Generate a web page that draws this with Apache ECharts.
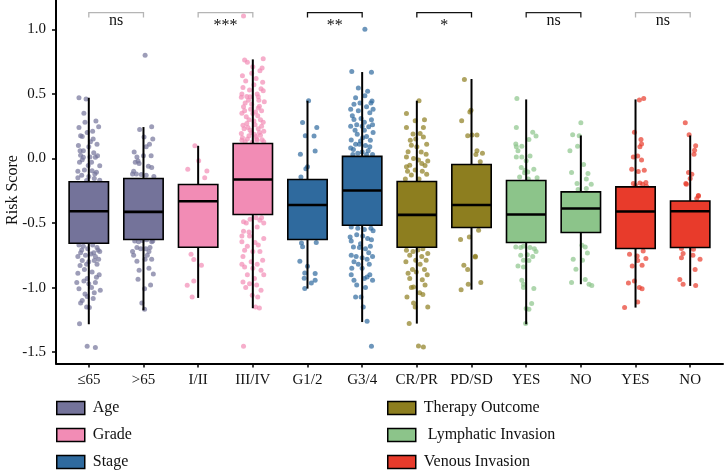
<!DOCTYPE html>
<html>
<head>
<meta charset="utf-8">
<script src="https://cdn.jsdelivr.net/npm/echarts@6/dist/echarts.min.js"></script>
<style>
html,body{margin:0;padding:0;background:#fff;}
#chart{width:724px;height:471px;}
</style>
</head>
<body>
<div id="chart"></div>
<script>
const categories = ['≤65','>65','I/II','III/IV','G1/2','G3/4','CR/PR','PD/SD','YES','NO','YES','NO'];
const groupNames = ['Age','Grade','Stage','Therapy Outcome','Lymphatic Invasion','Venous Invasion'];
const categoryGroup = [0,0,1,1,2,2,3,3,4,4,5,5];
const whiskerLow  = [-1.284,-1.176,-1.08,-1.16,-1.008,-1.267,-1.279,-1.016,-1.284,-0.974,-1.155,-0.987];
const quartile1   = [-0.657,-0.628,-0.688,-0.434,-0.628,-0.517,-0.688,-0.535,-0.651,-0.574,-0.698,-0.69];
const medians     = [-0.409,-0.414,-0.331,-0.163,-0.36,-0.248,-0.437,-0.36,-0.434,-0.388,-0.411,-0.409];
const quartile3   = [-0.181,-0.155,-0.202,0.116,-0.163,0.016,-0.178,-0.047,-0.171,-0.259,-0.22,-0.329];
const whiskerHigh = [0.47,0.243,0.098,0.767,0.447,0.669,0.447,0.615,0.457,0.178,0.457,0.178];
const yTicks = [-1.5,-1.0,-0.5,0.0,0.5,1.0];
const sigPairs = [[1,2],[3,4],[5,6],[7,8],[9,10],[11,12]];
const sigLabels = ['ns','***','**','*','ns','ns'];
const sigLevel = 1.13;

// jittered points: [jitter offset (category units), risk score]
const pts1 = [[-0.18,0.47],[-0.05,0.46],[-0.09,0.35],[0.13,0.29],[-0.18,0.24],[0.18,0.245],[-0.15,0.175],[-0.12,0.17],[-0.03,0.2],[0.08,0.15],[0.15,0.11],[-0.19,0.1],[0.0,0.09],[-0.1,0.06],[0.09,0.045],[-0.15,0.025],[0.02,0.012],[0.12,0.01],[-0.12,-0.01],[0.05,-0.03],[-0.17,-0.03],[-0.01,-0.055],[0.2,-0.057],[-0.08,-0.09],[0.06,-0.096],[-0.2,-0.1],[0.14,-0.106],[-0.13,-0.13],[0.1,-0.155],[0.2,-0.168],[-0.04,-0.17],[0.03,0.13],[-0.07,0.28],[0.16,0.02],[-0.2,-0.15],[0.11,-0.12],[-0.1,0.01],[0.07,0.21],[0.0,-0.14],[-0.16,0.06],
  [-0.18,-0.67],[-0.1,-0.68],[-0.02,-0.7],[0.07,-0.67],[0.15,-0.69],[0.2,-0.72],[-0.15,-0.73],[-0.06,-0.75],[0.04,-0.74],[0.12,-0.76],[-0.2,-0.76],[0.18,-0.78],[-0.12,-0.79],[0.0,-0.8],[0.1,-0.79],[-0.04,-0.82],[-0.16,-0.83],[0.15,-0.82],[-0.08,-0.86],[0.06,-0.88],[-0.2,-0.89],[0.14,-0.92],[-0.03,-0.93],[-0.22,-0.96],[0.0,-0.97],[0.12,-0.96],[-0.18,-1.01],[0.05,-1.0],[0.21,-1.02],[-0.07,-1.05],[-0.03,-1.07],[-0.12,-1.1],[0.08,-1.085],[-0.15,-1.12],[-0.04,-1.15],[0.01,-1.155],[-0.17,-1.28],[-0.03,-1.455],[0.12,-1.465],[0.17,-0.71],[-0.13,-0.71],[0.09,-0.73],[0.19,-0.9],[-0.09,-0.95],[0.1,-1.04]];
const pts2 = [[0.03,0.8],[-0.07,0.225],[0.15,0.245],[0.01,0.167],[0.17,0.15],[-0.17,0.05],[-0.12,0.012],[0.05,0.09],[0.14,0.02],[0.0,0.02],[-0.15,-0.03],[-0.08,-0.04],[0.09,-0.06],[-0.2,-0.12],[-0.13,-0.12],[-0.04,-0.125],[0.05,-0.13],[0.15,-0.07],[-0.1,-0.02],[0.11,0.11],[0.19,-0.14],[-0.18,-0.1],
  [-0.16,-0.64],[-0.09,-0.645],[-0.02,-0.635],[0.06,-0.63],[0.15,-0.645],[0.17,-0.64],[-0.12,-0.69],[-0.05,-0.7],[0.04,-0.7],[0.12,-0.69],[-0.2,-0.72],[0.1,-0.72],[-0.12,-0.796],[0.03,-0.78],[0.15,-0.78],[-0.08,-0.866],[0.1,-0.85],[0.18,-0.895],[-0.1,-0.935],[0.13,-0.98],[0.02,-1.01],[-0.03,-1.12],[0.02,-1.168],[-0.18,-0.75],[0.07,-0.75]];
const pts3 = [[-0.06,0.098],[0.01,-0.018],[-0.19,-0.083],[0.16,-0.098],[0.12,-0.15],
  [-0.13,-0.742],[-0.08,-0.783],[0.06,-0.827],[-0.2,-0.982],[-0.08,-0.949],[-0.11,-1.073]];
const pts4 = [[-0.17,1.103],[-0.15,0.762],[0.19,0.772],[-0.1,0.745],[0.18,0.591],[-0.18,0.55],[-0.05,0.478],[0.1,0.478],[-0.21,0.473],[0.19,0.524],[-0.08,0.45],[0.12,0.405],[-0.17,0.4],[0.05,0.36],[0.0,0.349],[-0.12,0.322],[0.14,0.3],[-0.18,0.258],[0.16,0.25],[-0.05,0.219],[0.2,0.21],[-0.21,0.194],[0.03,0.185],[-0.1,0.15],[0.17,0.145],[-0.01,0.126],[-0.14,0.13],[0.08,0.14],[0.13,0.68],[-0.02,0.66],[0.06,0.62],[-0.13,0.6],[0.02,0.57],[0.15,0.54],[-0.06,0.53],[-0.2,0.5],[0.08,0.5],[0.21,0.44],[-0.14,0.43],[-0.02,0.42],[0.16,0.37],[-0.2,0.35],[0.09,0.33],[-0.07,0.3],[0.19,0.28],[-0.11,0.27],[0.04,0.26],[-0.16,0.23],[0.1,0.23],[-0.02,0.2],[0.14,0.18],[-0.19,0.16],[0.06,0.17],[-0.07,0.175],[0.2,0.13],[-0.04,0.38],[0.11,0.45],[-0.11,0.48],[0.0,0.71],[-0.19,0.64],[0.17,0.7],[0.1,0.39],[-0.15,0.37],[0.02,0.29],[-0.09,0.24],[0.12,0.2],[-0.2,0.14],[0.07,0.15],
  [-0.17,-0.563],[-0.07,-0.57],[0.13,-0.478],[0.16,-0.46],[-0.2,-0.646],[-0.06,-0.6],[0.04,-0.65],[0.1,-0.67],[-0.15,-0.711],[0.0,-0.72],[0.18,-0.788],[-0.18,-0.76],[-0.03,-0.8],[-0.15,-0.84],[0.0,-0.85],[0.15,-0.866],[-0.18,-0.957],[-0.06,-0.97],[0.07,-0.98],[-0.01,-1.06],[0.09,-1.073],[0.12,-1.158],[0.05,-1.15],[-0.17,-1.455],[0.2,-0.5],[-0.12,-0.5],[0.08,-0.53],[-0.2,-0.6],[0.2,-0.62],[-0.1,-0.68],[0.13,-0.72],[-0.2,-0.82],[0.08,-0.82],[0.2,-0.9],[-0.1,-0.9],[0.03,-0.93],[-0.13,-1.0],[0.15,-1.02],[-0.05,-0.47],[0.06,-0.46],[-0.17,-0.49]];
const pts5 = [[0.02,0.447],[-0.09,0.279],[0.17,0.24],[-0.04,0.175],[0.12,0.173],[0.14,0.057],[-0.13,0.033],[0.0,-0.065],[-0.03,-0.08],[-0.12,-0.143],
  [-0.11,-0.654],[0.16,-0.651],[-0.09,-0.684],[-0.14,-0.796],[0.0,-0.835],[0.14,-0.891],[-0.05,-0.887],[-0.06,-0.928],[0.07,-0.964],[0.14,-0.943],[-0.05,-1.008]];
const pts6 = [[0.05,1.0],[-0.19,0.674],[0.17,0.667],[-0.07,0.545],[0.05,0.485],[-0.15,0.419],[0.18,0.444],[0.16,0.43],[-0.21,0.38],[-0.07,0.37],[0.14,0.354],[0.08,0.4],[-0.15,0.302],[-0.02,0.31],[0.17,0.3],[-0.21,0.25],[0.0,0.25],[0.12,0.245],[-0.13,0.219],[0.04,0.219],[-0.09,0.188],[0.08,0.17],[-0.2,0.142],[-0.03,0.135],[0.15,0.14],[-0.12,0.11],[0.06,0.1],[-0.21,0.08],[0.0,0.05],[-0.05,0.11],[0.11,0.06],[0.19,0.03],[-0.17,0.03],[0.2,0.2],[0.1,0.52],[-0.12,0.47],[0.2,0.38],[-0.04,0.43],[0.01,0.16],[-0.16,0.07],[0.14,0.09],[-0.08,0.04],[0.08,0.03],[0.19,0.26],[-0.18,0.33],[0.04,0.28],[-0.1,0.26],
  [-0.2,-0.53],[-0.08,-0.54],[0.04,-0.55],[0.16,-0.54],[0.2,-0.56],[-0.22,-0.608],[-0.1,-0.59],[0.01,-0.6],[0.1,-0.62],[-0.16,-0.685],[-0.05,-0.69],[0.06,-0.7],[0.15,-0.68],[-0.2,-0.75],[-0.11,-0.76],[0.0,-0.77],[0.09,-0.78],[0.19,-0.76],[-0.15,-0.8],[-0.07,-0.82],[0.13,-0.82],[-0.19,-0.85],[0.0,-0.85],[0.09,-0.918],[-0.15,-0.943],[0.19,-0.943],[-0.1,-0.98],[0.04,-0.93],[0.14,-0.9],[-0.12,-1.073],[-0.02,-1.073],[0.02,-1.15],[0.09,-1.261],[0.17,-1.455],[-0.2,-0.64],[0.17,-0.63],[-0.03,-0.66],[0.12,-0.73],[-0.2,-0.9],[0.06,-1.0]];
const pts7 = [[0.04,0.447],[-0.19,0.349],[-0.03,0.292],[-0.19,0.24],[0.12,0.24],[0.06,0.194],[-0.07,0.19],[0.12,0.167],[-0.1,0.103],[0.18,0.11],[0.0,0.09],[-0.16,0.051],[0.08,0.05],[0.17,0.033],[-0.19,0.012],[-0.06,0.0],[0.03,-0.013],[-0.13,-0.052],[0.15,-0.055],[-0.19,-0.065],[-0.03,-0.09],[0.1,-0.1],[-0.1,-0.129],[0.18,-0.122],[0.04,-0.16],[-0.21,-0.16],[0.14,0.3],[-0.12,0.14],[0.2,-0.02],[-0.02,0.15],[0.09,-0.04],[-0.17,-0.1],
  [-0.19,-0.711],[-0.07,-0.72],[0.02,-0.71],[0.11,-0.7],[0.2,-0.736],[-0.13,-0.75],[0.09,-0.76],[-0.02,-0.788],[0.17,-0.788],[-0.08,-0.86],[0.14,-0.86],[-0.01,-0.88],[-0.13,-0.93],[0.1,-0.94],[-0.06,-0.995],[0.15,-0.98],[-0.1,-1.0],[-0.18,-1.073],[0.11,-1.054],[-0.06,-1.12],[-0.03,-1.15],[0.2,-1.15],[-0.14,-1.279],[0.03,-1.452],[0.12,-1.46],[0.06,-0.82],[-0.2,-0.8],[0.19,-0.9],[0.05,-1.04],[-0.16,-0.89]];
const pts8 = [[-0.13,0.612],[-0.01,0.374],[-0.18,0.292],[-0.07,0.175],[0.1,0.181],[-0.03,0.36],[0.01,0.181],[0.1,0.059],[0.08,0.031],[0.16,-0.026],[0.2,0.04],
  [-0.2,-0.628],[-0.04,-0.608],[0.13,-0.556],[-0.14,-0.827],[-0.07,-0.86],[0.07,-0.763],[0.07,-0.758],[-0.19,-1.016],[-0.06,-0.974],[0.17,-0.961]];
const pts9 = [[-0.17,0.465],[-0.18,0.24],[0.12,0.202],[0.18,0.173],[0.05,0.147],[-0.19,0.111],[-0.18,0.09],[-0.08,0.095],[-0.15,0.059],[-0.18,0.012],[-0.08,0.012],[0.07,0.018],[0.0,-0.018],[-0.09,-0.07],[-0.02,-0.091],[0.14,-0.083],[-0.03,-0.111],[0.03,-0.105],[-0.12,-0.143],[0.04,-0.16],[0.2,-0.15],
  [-0.19,-0.685],[-0.1,-0.69],[-0.05,-0.68],[0.07,-0.69],[0.15,-0.7],[-0.1,-0.75],[0.02,-0.745],[0.12,-0.76],[-0.05,-0.788],[0.05,-0.79],[-0.15,-0.833],[-0.05,-0.84],[-0.08,-0.943],[-0.05,-0.974],[0.14,-1.008],[-0.05,-1.0],[0.1,-1.124],[0.0,-1.163],[0.05,-1.168],[-0.01,-1.279],[0.18,-0.72]];
const pts10 = [[0.0,0.276],[-0.15,0.183],[-0.03,0.175],[-0.06,0.095],[-0.2,0.059],[0.05,-0.047],[-0.17,-0.109],[0.13,-0.116],[0.1,-0.16],[-0.07,-0.194],[0.1,-0.233],[-0.05,-0.24],[0.19,-0.2],
  [0.02,-0.672],[0.08,-0.685],[0.12,-0.732],[-0.14,-0.781],[0.03,-0.788],[-0.09,-0.858],[0.08,-0.938],[-0.17,-0.961],[0.15,-0.974],[0.2,-0.984]];
const pts11 = [[0.07,0.452],[0.15,0.465],[-0.02,0.202],[0.1,0.147],[0.11,0.111],[0.08,0.09],[-0.04,0.012],[0.04,0.018],[0.11,-0.013],[-0.07,-0.083],[0.05,-0.101],[0.16,-0.091],[-0.04,-0.194],[0.08,-0.19],[0.19,-0.186],[0.13,-0.2],[0.0,-0.21],[0.2,-0.215],
  [-0.11,-0.742],[0.03,-0.755],[0.14,-0.716],[0.19,-0.775],[0.04,-0.79],[-0.06,-0.833],[0.12,-0.827],[-0.13,-0.964],[-0.02,-0.949],[0.07,-1.0],[0.12,-1.01],[-0.2,-1.155],[0.04,-1.112]];
const pts12 = [[-0.09,0.276],[-0.02,0.183],[0.1,0.098],[0.08,0.064],[0.07,0.033],[-0.03,-0.109],[0.03,-0.122],[0.0,-0.155],[-0.08,-0.194],[0.15,-0.29],[0.12,-0.31],[-0.07,-0.2],[0.15,-0.287],
  [-0.16,-0.698],[0.06,-0.703],[-0.13,-0.736],[0.05,-0.75],[0.18,-0.781],[-0.16,-0.77],[-0.19,-0.938],[0.09,-0.86],[-0.13,-0.974],[0.1,-0.984]];
const pointsByCategory = [pts1,pts2,pts3,pts4,pts5,pts6,pts7,pts8,pts9,pts10,pts11,pts12];

// styles
const FONT = "'Liberation Serif','DejaVu Serif',serif";
const boxColors = ['#74739A','#F28CB5','#2F6A9E','#8D7E1F','#8CC48A','#E83B2B'];
const sigColors = ['#b5b5b5','#b5b5b5','#111','#111','#222','#b5b5b5'];
const BOX_W = 0.72;

const chart = echarts.init(document.getElementById('chart'), null, {renderer:'canvas'});

function renderBox(color) {
  return function (params, api) {
    const x = api.value(0);
    const lo = api.coord([x, api.value(1)]);
    const q1 = api.coord([x, api.value(2)]);
    const md = api.coord([x, api.value(3)]);
    const q3 = api.coord([x, api.value(4)]);
    const hi = api.coord([x, api.value(5)]);
    const half = api.size([BOX_W, 0])[0] / 2;
    const cx = lo[0];
    return {
      type: 'group',
      children: [
        {type:'line', shape:{x1:cx, y1:hi[1], x2:cx, y2:q3[1]}, style:{stroke:'#000', lineWidth:2}},
        {type:'line', shape:{x1:cx, y1:q1[1], x2:cx, y2:lo[1]}, style:{stroke:'#000', lineWidth:2}},
        {type:'rect', shape:{x:cx-half, y:q3[1], width:2*half, height:q1[1]-q3[1]}, style:{fill:color, stroke:'#000', lineWidth:1.6}},
        {type:'line', shape:{x1:cx-half, y1:md[1], x2:cx+half, y2:md[1]}, style:{stroke:'#000', lineWidth:2.6}}
      ]
    };
  };
}

const series = [];
groupNames.forEach((g, gi) => {
  const cats = [];
  categoryGroup.forEach((cg, ci) => { if (cg === gi) cats.push(ci); });
  const ptsData = [];
  cats.forEach(ci => pointsByCategory[ci].forEach(p => ptsData.push([ci + 1 + p[0], p[1]])));
  series.push({
    name: g + ' points',
    type: 'scatter',
    data: ptsData,
    symbolSize: 5,
    itemStyle: {color: boxColors[gi], opacity: 0.7},
    z: 2,
    silent: true
  });
  series.push({
    name: g,
    type: 'custom',
    renderItem: renderBox(boxColors[gi]),
    itemStyle: {color: boxColors[gi]},
    encode: {x: 0, y: [1,2,3,4,5]},
    data: cats.map(ci => [ci + 1, whiskerLow[ci], quartile1[ci], medians[ci], quartile3[ci], whiskerHigh[ci]]),
    z: 3,
    silent: true
  });
});

series.push({
  name: 'significance',
  type: 'custom',
  z: 4,
  silent: true,
  data: sigPairs.map(p => [p[0], p[1], sigLevel]),
  encode: {x: [0,1], y: 2},
  renderItem: function (params, api) {
    const i = params.dataIndex;
    const a = api.coord([api.value(0), api.value(2)]);
    const b = api.coord([api.value(1), api.value(2)]);
    const tick = 5;
    const lab = sigLabels[i];
    const isStar = lab.indexOf('*') >= 0;
    return {
      type: 'group',
      children: [
        {type:'polyline', shape:{points:[[a[0], a[1]+tick],[a[0], a[1]],[b[0], b[1]],[b[0], b[1]+tick]]},
         style:{stroke: sigColors[i], lineWidth: 1.3, fill: null}},
        {type:'text', style:{x:(a[0]+b[0])/2, y:a[1] + (isStar ? 5 : 0), text: lab, align:'center', verticalAlign:'top',
          font: "16px " + FONT, fill:'#111'}}
      ]
    };
  }
});

const legendCommon = {
  orient: 'vertical', top: 400, height: 90, padding: 0, itemWidth: 28, itemHeight: 13, itemGap: 11, icon: 'rect',
  selectedMode: false,
  textStyle: {fontFamily: FONT, fontSize: 16, lineHeight: 16, color: '#111', padding: [0,0,0,3]}
};

const option = {
  animation: false,
  backgroundColor: '#fff',
  grid: {left: 56, right: 1, top: 0, bottom: 107.5, containLabel: false},
  xAxis: {
    type: 'value', min: 0.4, max: 12.6,
    axisLine: {show: true, onZero: false, lineStyle: {color: '#000', width: 2}},
    axisTick: {show: true, customValues: categories.map((c, i) => i + 1), length: 4, lineStyle: {color: '#000', width: 1.5}},
    axisLabel: {customValues: categories.map((c, i) => i + 1), formatter: v => categories[Math.round(v) - 1], margin: 9,
      fontFamily: FONT, fontSize: 15, color: '#111'},
    splitLine: {show: false}
  },
  yAxis: {
    type: 'value', min: -1.588, max: 1.227,
    axisLine: {show: true, onZero: false, lineStyle: {color: '#000', width: 2}},
    axisTick: {show: true, customValues: yTicks, length: 4, lineStyle: {color: '#000', width: 1.5}},
    axisLabel: {customValues: yTicks, formatter: v => v.toFixed(1), margin: 10, fontFamily: FONT, fontSize: 15, color: '#111'},
    splitLine: {show: false}
  },
  legend: [
    Object.assign({}, legendCommon, {
      left: 56,
      data: groupNames.slice(0, 3).map((n, i) => ({name: n, itemStyle: {color: boxColors[i], borderColor: '#000', borderWidth: 1.5}}))
    }),
    Object.assign({}, legendCommon, {
      left: 387,
      data: groupNames.slice(3).map((n, i) => ({name: n, itemStyle: {color: boxColors[i + 3], borderColor: '#000', borderWidth: 1.5}})),
      formatter: n => n === 'Lymphatic Invasion' ? ' ' + n : n
    })
  ],
  graphic: [
    {type: 'text', x: 13, y: 190, rotation: Math.PI / 2, style: {text: 'Risk Score', font: '16px ' + FONT, fill: '#111', align: 'center', verticalAlign: 'middle'}}
  ],
  series: series
};
chart.setOption(option);
</script>
</body>
</html>
